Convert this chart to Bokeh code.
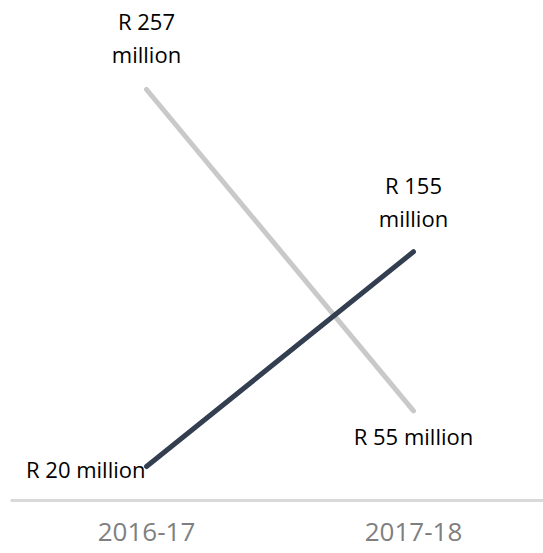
from bokeh.plotting import figure
from bokeh.models import ColumnDataSource, Range1d, FixedTicker
from bokeh.core.properties import value
from bokeh.embed import file_html
from bokeh.resources import INLINE

# Data
periods = ["2016-17", "2017-18"]
series_a = [257, 55]   # light grey line
series_b = [20, 155]   # dark line
label_texts = ["R 257\nmillion", "R 55 million", "R 20 million", "R 155\nmillion"]
label_x = [0, 1, 0, 1]
label_y = [series_a[0], series_a[1], series_b[0], series_b[1]]

# Styling (offsets in pixels)
label_xoff = [0, 0, -1, 0]
label_yoff = [-52, 25, 2, -50]
label_align = ["center", "center", "right", "center"]

xs = list(range(len(periods)))

p = figure(width=543, height=553, output_backend="svg", toolbar_location=None,
           x_range=Range1d(-0.5094, 1.487), y_range=Range1d(-1.37, 312.96),
           y_axis_location=None, min_border_left=10, min_border_right=0,
           min_border_top=0, min_border_bottom=53)
p.outline_line_color = None
p.grid.visible = False
p.background_fill_color = "white"
p.border_fill_color = "white"

p.line(xs, series_a, line_color="#C9C9C9", line_width=5, line_cap="round")
p.line(xs, series_b, line_color="#333F50", line_width=5, line_cap="round")

src = ColumnDataSource(dict(x=label_x, y=label_y, t=label_texts,
                            xo=label_xoff, yo=label_yoff, al=label_align))
p.text(x="x", y="y", text="t", source=src, x_offset="xo", y_offset="yo",
       text_align="al", text_baseline="middle", text_font=value("Open Sans"),
       text_font_size="22px", text_color="#000000", text_line_height=1.1)

ax = p.xaxis[0]
ax.ticker = FixedTicker(ticks=xs)
ax.major_label_overrides = {i: s for i, s in enumerate(periods)}
ax.axis_line_color = "#D9D9D9"
ax.axis_line_width = 3
ax.major_tick_line_color = None
ax.minor_tick_line_color = None
ax.major_label_text_font = "Open Sans"
ax.major_label_text_font_size = "26px"
ax.major_label_text_color = "#7F7F7F"
ax.major_label_standoff = 16

open("out.html", "w").write(file_html(p, INLINE))
